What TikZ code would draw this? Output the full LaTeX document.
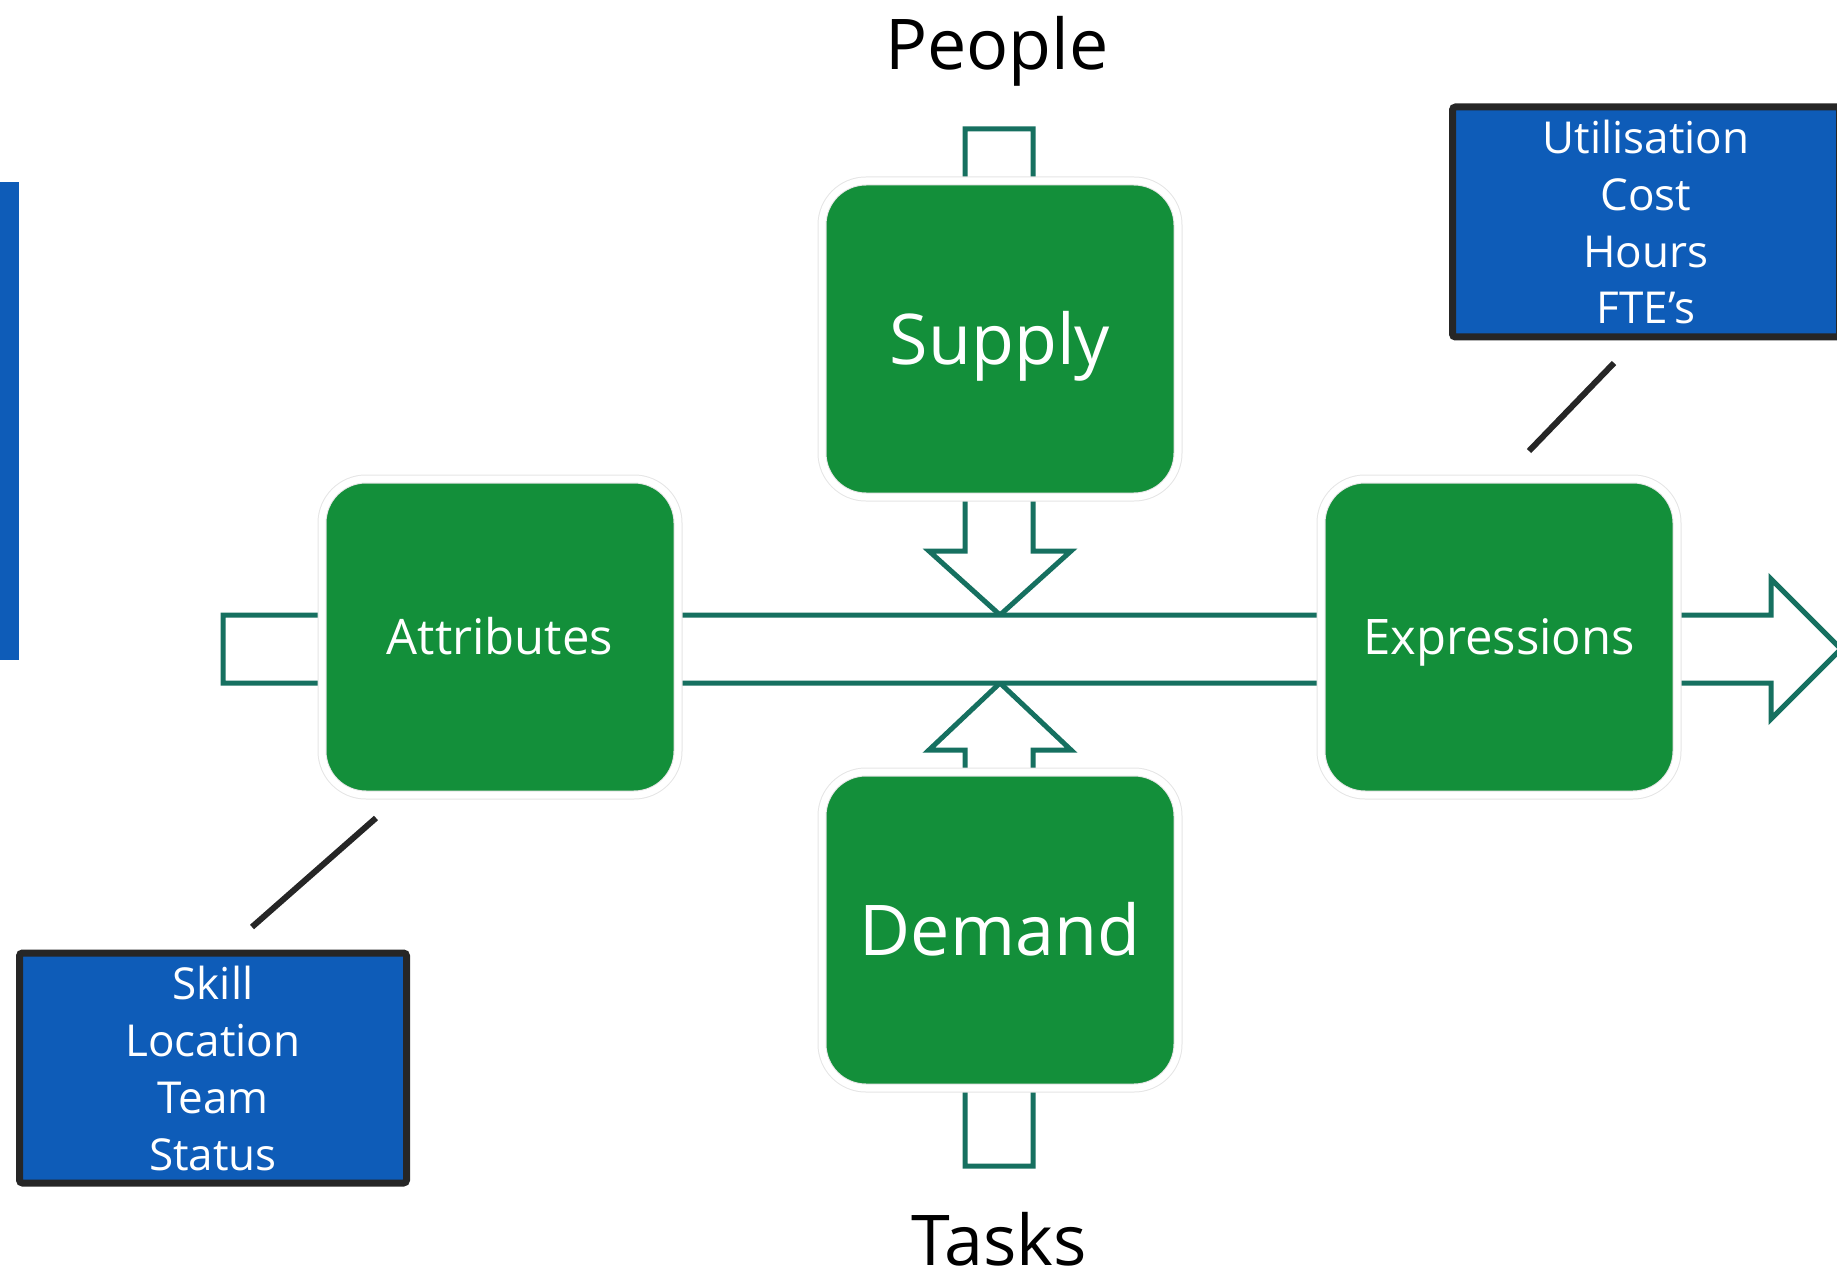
\documentclass[tikz,border=0pt]{standalone}
\usepackage{fontspec}
\setmainfont{Open Sans}
\usetikzlibrary{shadows}

\definecolor{coregreen}{RGB}{19,143,58}
\definecolor{flowteal}{RGB}{22,112,96}
\definecolor{listblue}{RGB}{14,92,184}
\definecolor{calloutgray}{RGB}{38,38,38}

\tikzset{
  corebox/.style={rectangle, rounded corners=44pt, fill=coregreen, draw=black!10, double=white,
    double distance=7pt, line width=1pt, minimum width=356pt, minimum height=316pt, text=white,
    drop shadow={opacity=0.3, shadow xshift=2pt, shadow yshift=-3pt}},
  listbox/.style={rectangle, rounded corners=3pt, fill=listblue, draw=calloutgray, line width=7pt,
    minimum width=387pt, minimum height=230pt, text=white, align=center,
    font=\fontsize{44}{57}\selectfont,
    drop shadow={opacity=0.3, shadow xshift=2pt, shadow yshift=-2pt}},
  flow/.style={draw=flowteal, fill=white, line width=5pt, line join=miter},
  callout/.style={draw=calloutgray, line width=6pt},
  bigtext/.style={font=\fontsize{70}{84}\selectfont, text height=50pt, text depth=0pt},
  midtext/.style={font=\fontsize{49}{60}\selectfont, text height=35pt, text depth=0pt},
  headtext/.style={font=\fontsize{70}{84}\selectfont, text height=50pt, text depth=0pt, inner sep=0pt}
}

\begin{document}
\begin{tikzpicture}[x=1pt, y=-1pt]
    \useasboundingbox (0,0) rectangle (1837,1273);

    \fill[listblue] (0,182) rectangle (19,660);

    % block arrows behind the boxes
    \draw[flow] (965,129) -- (1033,129) -- (1033,551) -- (1071,551) -- (1000,615)
        -- (929,551) -- (965,551) -- cycle;
    \draw[flow] (965,1166) -- (1033,1166) -- (1033,750) -- (1071,750) -- (1000,683)
        -- (929,750) -- (965,750) -- cycle;
    \draw[flow] (223,615) -- (1771,615) -- (1771,579) -- (1841,649) -- (1771,719)
        -- (1771,683) -- (223,683) -- cycle;

    \node[corebox, bigtext] (supply) at (1000,339) {Supply};
    \node[corebox, bigtext] (demand) at (1000,930) {Demand};
    \node[corebox, midtext] (attributes) at (500,637) {Attributes};
    \node[corebox, midtext] (expressions) at (1499,637) {Expressions};

    \node[headtext] (people) at (997,45) {People};
    \node[headtext] (tasks) at (999,1240) {Tasks};

    \node[listbox] (measures) at (1646,222) {Utilisation\\Cost\\Hours\\FTE’s};
    \node[listbox] (traits) at (213,1068) {Skill\\Location\\Team\\Status};

    \coordinate (measuresTip) at (1614,363);
    \coordinate (measuresEnd) at (1529,451);
    \coordinate (traitsTip) at (376,818);
    \coordinate (traitsEnd) at (252,927);
    \draw[callout] (measuresTip) -- (measuresEnd);
    \draw[callout] (traitsTip) -- (traitsEnd);
\end{tikzpicture}
\end{document}
